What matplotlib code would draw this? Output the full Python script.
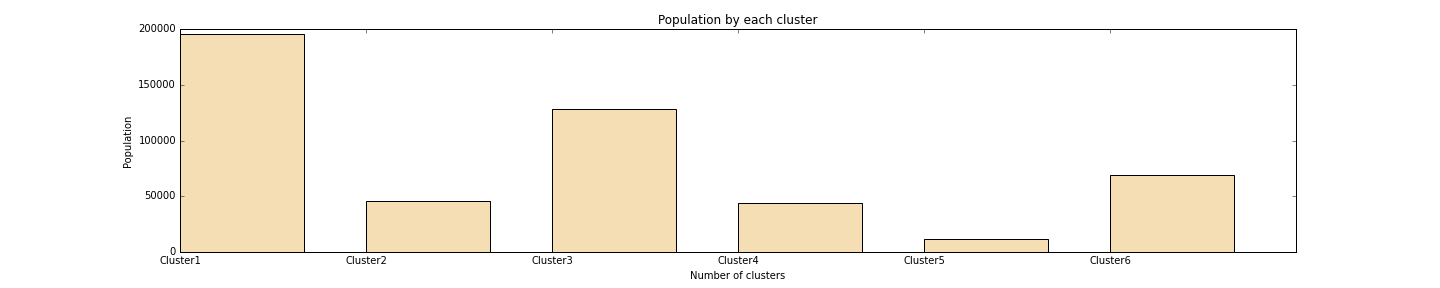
import matplotlib
matplotlib.use('Agg')
import matplotlib.pyplot as plt
import numpy as np

clusters = ['Cluster1', 'Cluster2', 'Cluster3', 'Cluster4', 'Cluster5', 'Cluster6']
population = [195800, 45700, 128200, 44000, 11700, 69300]

plt.style.use('classic')

fig = plt.figure(figsize=(20, 4), dpi=72)
ax = fig.add_axes([0.125, 0.124, 0.775, 0.775])

pos = np.arange(len(clusters))
ax.bar(pos, population, width=0.665, align='edge', color='wheat', edgecolor='black')
ax.set_xticks(pos)
ax.set_xticklabels(clusters)
ax.set_xlim(0, 6)
ax.set_ylim(0, 200000)
ax.tick_params(labelsize=10)
ax.set_title('Population by each cluster', fontsize=12)
ax.set_xlabel('Number of clusters', fontsize=10)
ax.set_ylabel('Population', fontsize=10)

fig.savefig('out.png', dpi=72, facecolor='white')
